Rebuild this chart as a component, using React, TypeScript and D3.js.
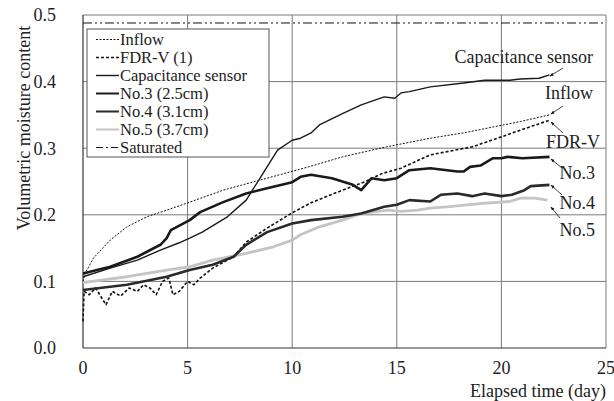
import React from "react";
import * as d3 from "d3";

const xTicks = [0, 5, 10, 15, 20, 25];
const yTicks = [0, 0.1, 0.2, 0.3, 0.4, 0.5];
const yTickLabels = ["0.0", "0.1", "0.2", "0.3", "0.4", "0.5"];
const saturatedValue = 0.488;

const inflowDays = [0, 0.1, 0.5, 1.3, 2.1, 3.05, 4.0, 5.1, 6.7, 8.8, 10.9, 12.4, 14.5, 16.6, 18.2, 20.9, 22.3];
const inflowVals = [0.1, 0.112, 0.135, 0.162, 0.182, 0.197, 0.207, 0.219, 0.237, 0.255, 0.273, 0.287, 0.302, 0.315, 0.323, 0.34, 0.35];

const fdrDays = [0, 0.05, 0.3, 0.6, 0.9, 1.1, 1.4, 1.8, 2.2, 2.6, 2.9, 3.2, 3.5, 3.8, 4.1, 4.3, 4.6, 5.0, 5.3, 5.6, 6.2, 7.2, 7.8, 8.8, 10.0, 10.9, 12.0, 13.5, 14.3, 15.2, 16.6, 18.6, 20.0, 20.9, 22.3];
const fdrVals = [0.04, 0.085, 0.08, 0.09, 0.075, 0.065, 0.085, 0.078, 0.09, 0.085, 0.095, 0.09, 0.08, 0.1, 0.105, 0.08, 0.085, 0.1, 0.095, 0.105, 0.12, 0.137, 0.159, 0.18, 0.203, 0.218, 0.232, 0.25, 0.262, 0.27, 0.29, 0.302, 0.317, 0.327, 0.342];

const capDays = [0, 1.3, 2.6, 3.7, 4.6, 5.1, 5.7, 6.9, 7.8, 8.5, 9.3, 10.0, 10.4, 10.9, 11.3, 12.4, 13.3, 14.4, 14.9, 15.2, 15.6, 16.6, 18.2, 19.2, 20.4, 20.9, 21.8, 22.3];
const capVals = [0.107, 0.12, 0.132, 0.147, 0.158, 0.165, 0.174, 0.197, 0.222, 0.257, 0.297, 0.312, 0.315, 0.323, 0.335, 0.352, 0.365, 0.377, 0.375, 0.383, 0.385, 0.392, 0.398, 0.402, 0.402, 0.404, 0.405, 0.41];

const no3Days = [0, 1.3, 2.6, 3.7, 4.0, 4.2, 5.1, 5.6, 6.7, 7.8, 8.8, 10.0, 10.4, 10.9, 11.9, 12.4, 12.9, 13.3, 13.8, 14.4, 15.0, 15.6, 16.6, 17.9, 18.2, 18.5, 19.0, 19.6, 20.0, 20.3, 21.0, 22.3];
const no3Vals = [0.112, 0.122, 0.137, 0.155, 0.165, 0.177, 0.192, 0.204, 0.219, 0.232, 0.24, 0.249, 0.257, 0.26, 0.255, 0.25, 0.245, 0.237, 0.255, 0.252, 0.255, 0.267, 0.27, 0.265, 0.265, 0.272, 0.274, 0.285, 0.285, 0.287, 0.285, 0.287];

const no4Days = [0, 2.1, 4.0, 5.1, 6.2, 7.2, 7.8, 8.8, 10.0, 10.9, 12.4, 13.3, 14.4, 15.0, 15.6, 16.6, 17.1, 17.9, 18.6, 19.2, 20.0, 20.5, 21.1, 21.4, 22.3];
const no4Vals = [0.087, 0.095, 0.107, 0.117, 0.125, 0.137, 0.155, 0.174, 0.187, 0.192, 0.197, 0.202, 0.212, 0.215, 0.222, 0.22, 0.23, 0.232, 0.228, 0.232, 0.228, 0.23, 0.237, 0.243, 0.245];

const no5Days = [0, 2.1, 4.0, 5.1, 6.2, 7.8, 9.1, 10.0, 10.4, 11.3, 12.4, 13.3, 14.6, 15.2, 16.0, 16.6, 17.4, 19.1, 20.4, 20.9, 21.6, 22.2];
const no5Vals = [0.098, 0.107, 0.117, 0.122, 0.132, 0.142, 0.152, 0.162, 0.17, 0.182, 0.192, 0.202, 0.207, 0.205, 0.207, 0.21, 0.212, 0.217, 0.22, 0.225, 0.225, 0.222];

const legendLabels = ["Inflow", "FDR-V (1)", "Capacitance sensor", "No.3 (2.5cm)", "No.4 (3.1cm)", "No.5 (3.7cm)", "Saturated"];
const annotationLabels = ["Capacitance sensor", "Inflow", "FDR-V", "No.3", "No.4", "No.5"];

const W = 614, H = 401;
const FONT = "'Liberation Serif', 'Times New Roman', serif";
const FS = 18;

type Style = { stroke: string; width: number; dash?: string };
const styles: Style[] = [
  { stroke: "#111", width: 1, dash: "2,1.5" },
  { stroke: "#111", width: 1.6, dash: "3,2" },
  { stroke: "#1a1a1a", width: 1.4 },
  { stroke: "#1a1a1a", width: 2.6 },
  { stroke: "#2a2a2a", width: 2.6 },
  { stroke: "#c4c4c4", width: 2.8 },
  { stroke: "#111", width: 1, dash: "9,3,2,3,2,3" },
];

const textStyle = { fontFamily: FONT, fontSize: FS, fill: "#222" } as const;
const legendTextStyle = { fontFamily: FONT, fontSize: 16.5, fill: "#222" } as const;

export default function App() {
  const x = d3.scaleLinear().domain([0, 25]).range([83, 606]);
  const y = d3.scaleLinear().domain([0, 0.5]).range([348, 15]);
  const line = d3
    .line<[number, number]>()
    .x((d) => x(d[0]))
    .y((d) => y(d[1]));
  const zip = (a: number[], b: number[]) => a.map((v, i) => [v, b[i]] as [number, number]);

  const series = [
    { data: zip(inflowDays, inflowVals), s: styles[0] },
    { data: zip(fdrDays, fdrVals), s: styles[1] },
    { data: zip(no5Days, no5Vals), s: styles[5] },
    { data: zip(no4Days, no4Vals), s: styles[4] },
    { data: zip(no3Days, no3Vals), s: styles[3] },
    { data: zip(capDays, capVals), s: styles[2] },
  ];

  const annotations = [
    { text: annotationLabels[0], tx: 593, ty: 63, x1: 563, y1: 68, x2: 550, y2: 76 },
    { text: annotationLabels[1], tx: 593, ty: 99, x1: 563, y1: 106, x2: 551, y2: 114 },
    { text: annotationLabels[2], tx: 600, ty: 148, x1: 563, y1: 133, x2: 551, y2: 122 },
    { text: annotationLabels[3], tx: 595, ty: 179, x1: 562, y1: 168, x2: 551, y2: 159 },
    { text: annotationLabels[4], tx: 595, ty: 209, x1: 562, y1: 195, x2: 551, y2: 185 },
    { text: annotationLabels[5], tx: 595, ty: 236, x1: 560, y1: 218, x2: 551, y2: 207 },
  ];

  const [x0, x1] = x.range();
  const [yb, yt] = y.range();

  return (
    <svg width={W} height={H} style={{ position: "absolute", left: 0, top: 0, background: "#fff", fontFamily: FONT }}>
      <defs>
        <marker id="ah" viewBox="0 0 10 10" refX="9" refY="5" markerWidth="5" markerHeight="5" orient="auto">
          <path d="M0,1 L10,5 L0,9 z" fill="#111" />
        </marker>
      </defs>
      {yTicks.slice(1).map((t) => (
        <line key={"gy" + t} x1={x0} x2={x1} y1={y(t)} y2={y(t)} stroke="#7a7a7a" strokeWidth={1} />
      ))}
      {xTicks.slice(1).map((t) => (
        <line key={"gx" + t} x1={x(t)} x2={x(t)} y1={yt} y2={yb} stroke="#7a7a7a" strokeWidth={1} />
      ))}
      <line x1={x0} x2={x0} y1={yt} y2={yb} stroke="#333" strokeWidth={1.2} />
      <line x1={x0} x2={x1} y1={yb} y2={yb} stroke="#333" strokeWidth={1.2} />
      <line x1={x0} x2={x1} y1={y(saturatedValue)} y2={y(saturatedValue)} stroke={styles[6].stroke} strokeWidth={styles[6].width} strokeDasharray={styles[6].dash} />
      {series.map((sr, i) => (
        <path key={i} d={line(sr.data) || ""} fill="none" stroke={sr.s.stroke} strokeWidth={sr.s.width} strokeDasharray={sr.s.dash} strokeLinejoin="round" />
      ))}
      {yTicks.map((t, i) => (
        <text key={"yl" + t} x={56} y={y(t)} dy="0.35em" textAnchor="end" style={textStyle}>
          {yTickLabels[i]}
        </text>
      ))}
      {xTicks.map((t) => (
        <text key={"xl" + t} x={x(t)} y={368} dy="0.35em" textAnchor="middle" style={textStyle}>
          {t}
        </text>
      ))}
      <text x={606} y={391} dy="0.35em" textAnchor="end" style={textStyle}>
        Elapsed time (day)
      </text>
      <text transform="translate(24,128) rotate(-90)" textAnchor="middle" dy="0.35em" style={textStyle}>
        Volumetric moisture content
      </text>
      <rect x={87} y={29} width={182} height={128} fill="#fff" stroke="#555" strokeWidth={1} />
      {legendLabels.map((lab, i) => {
        const ly = 39.5 + i * 18;
        const st = styles[i];
        return (
          <g key={lab}>
            <line x1={96} x2={119} y1={ly} y2={ly} stroke={st.stroke} strokeWidth={Math.min(st.width, 2)} strokeDasharray={i === 6 ? "7,3,2,3" : st.dash} />
            <text x={120} y={ly} dy="0.35em" style={legendTextStyle}>
              {lab}
            </text>
          </g>
        );
      })}
      {annotations.map((a) => (
        <g key={a.text}>
          <text x={a.tx} y={a.ty} textAnchor="end" style={textStyle}>
            {a.text}
          </text>
          <line x1={a.x1} y1={a.y1} x2={a.x2} y2={a.y2} stroke="#111" strokeWidth={0.8} markerEnd="url(#ah)" />
        </g>
      ))}
    </svg>
  );
}
